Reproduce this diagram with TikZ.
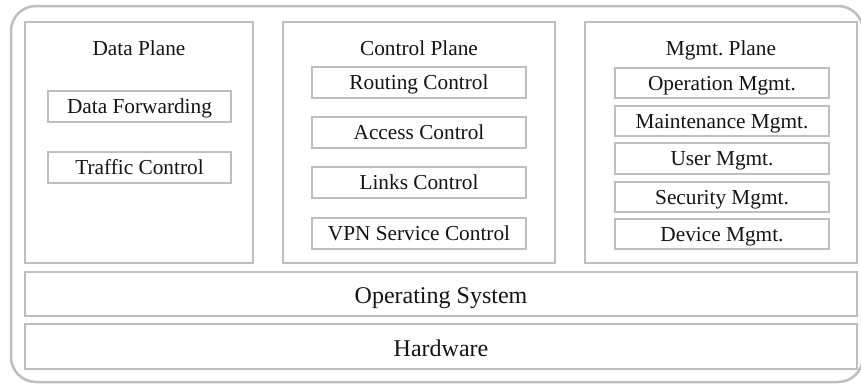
\documentclass[tikz,border=0pt]{standalone}
\usepackage{fontspec}
\setmainfont{Liberation Serif}
\definecolor{frame}{RGB}{190,190,190}
\definecolor{ink}{RGB}{20,20,20}
\begin{document}
\begin{tikzpicture}[x=1pt,y=-1pt,
  every node/.style={font=\fontsize{21.3}{25}\selectfont, text=ink, inner sep=0pt,
    text height=14.5pt, text depth=0.5pt},
  panel/.style={draw=frame, line width=2pt, anchor=center},
  layer/.style={panel, minimum width=832pt},
  layertext/.style={font=\fontsize{24}{28}\selectfont, text height=18pt, text depth=0pt},
  item/.style={draw=frame, line width=2pt, anchor=center, minimum width=#1, minimum height=30.5pt},
  item/.default=214pt,
  title/.style={anchor=center}]
\useasboundingbox (0,0) rectangle (861,383);
\draw[frame, line width=2.5pt, rounded corners=25pt] (11,6) rectangle (863,382);
% planes
\node[panel, minimum width=228pt, minimum height=241pt] (dp) at (139,142.5) {};
\node[panel, minimum width=272pt, minimum height=241pt] (cp) at (419,142.5) {};
\node[panel, minimum width=272pt, minimum height=241pt] (mp) at (721,142.5) {};
\node[title] (dpt) at (139,48) {Data Plane};
\node[title] (cpt) at (419,48) {Control Plane};
\node[title] (mpt) at (721,48) {Mgmt.\ Plane};
% data plane items
\node[item=183pt] (df) at (139.5,106.5) {Data Forwarding};
\node[item=183pt] (tc) at (139.5,167.5) {Traffic Control};
% control plane items
\node[item] (rc) at (419,82.5) {Routing Control};
\node[item] (ac) at (419,132.5) {Access Control};
\node[item] (lc) at (419,182.5) {Links Control};
\node[item] (vpn) at (419,233.5) {VPN Service Control};
% mgmt plane items
\node[item] (om) at (722,83) {Operation Mgmt.};
\node[item] (mm) at (722,121) {Maintenance Mgmt.};
\node[item] (um) at (722,158.5) {User Mgmt.};
\node[item] (sm) at (722,197) {Security Mgmt.};
\node[item] (dm) at (722,234) {Device Mgmt.};
% bottom layers
\node[layer, minimum height=44pt] (os) at (441,294) {};
\node[layertext] (ost) at (441,294) {Operating System};
\node[layer, minimum height=45pt] (hw) at (441,346.5) {};
\node[layertext] (hwt) at (441,347.5) {Hardware};
\end{tikzpicture}
\end{document}
